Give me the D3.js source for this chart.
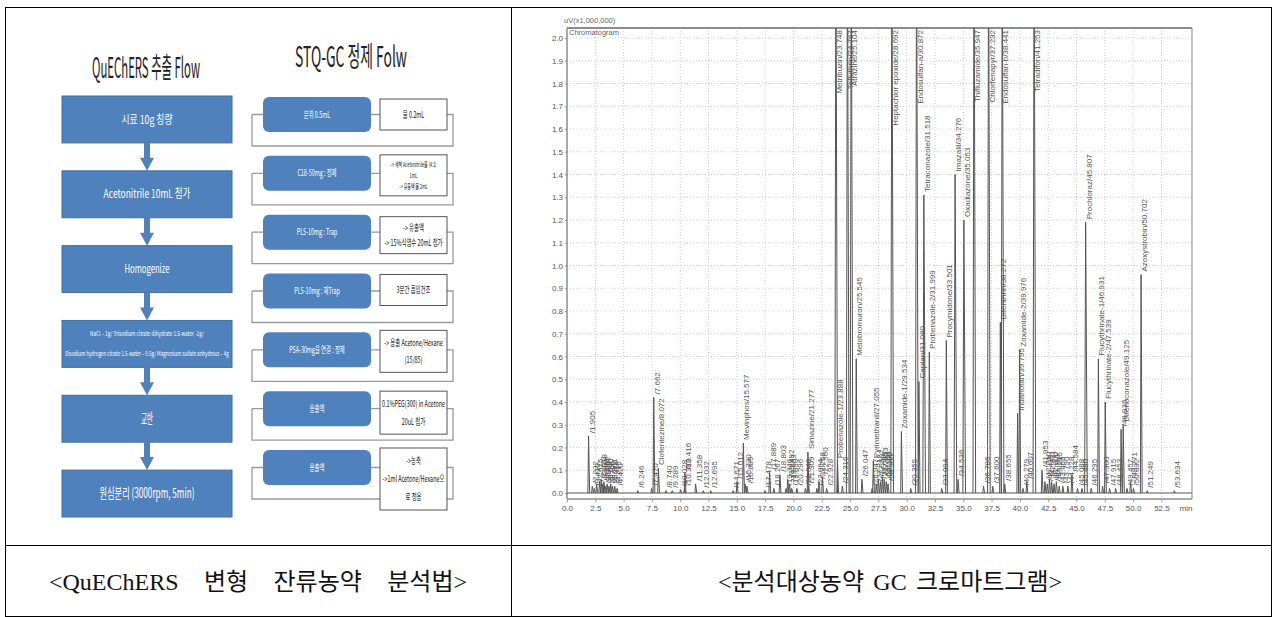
<!DOCTYPE html>
<html>
<head>
<meta charset="utf-8">
<script src="https://cdn.jsdelivr.net/npm/d3@7"></script>
<style>
body { margin: 0; background: #fff; }
</style>
</head>
<body>
<div class="canva"></div>
<script>
// ---- data ----
const flowTitle = "QuEChERS 추출 Flow";
const flowSteps = ["시료 10g 칭량", "Acetonitrile 10mL 첨가", "Homogenize",
  "NaCl – 1g/ Trisodium citrate dihydrate 1.5-water -1g/|Disodium hydrogen citrate 1.5-water – 0.5g/ Magnesium sulfate anhydrous – 4g",
  "교반", "원심분리 (3000rpm, 5min)"];

const purifyTitle = "STQ-GC 정제 Folw";
const purifySteps = ["분취 0.5mL", "C18-50mg : 정제", "PLS-10mg : Trap", "PLS-10mg : 재Trap",
  "PSA-30mg을 연결 : 정제", "용출액", "용출액"];
const purifyNotes = [
  ["물 0.2mL"],
  ["-> 세척 Acetonitrile을 (4:1)", "1mL", "-> 유출액 물 2mL"],
  ["-> 유출액", "-> 15%식염수 20mL 첨가"],
  ["3분간 흡입건조"],
  ["-> 용출 Acetone/Hexane", "(15/85)"],
  ["0.1%PEG(300) in Acetone", "20uL 첨가"],
  ["->농축", "->1ml Acetone/Hexane으", "로 정용"]
];

const captions = ["<QuEChERS 변형 잔류농약 분석법>", "<분석대상농약 GC 크로마트그램>"];

// chromatogram peaks: retention time (min), height (uV x 1,000,000), compound
const peakTimes = [1.905, 2.232, 2.410, 2.615, 2.872, 3.018, 3.140, 3.262, 3.398, 3.540, 3.706, 3.861, 4.018, 4.215, 4.420,
  6.246, 7.470, 7.662, 8.072, 8.740, 9.289, 10.028, 10.383, 10.416, 11.358, 12.032, 12.695,
  14.671, 15.012, 15.577, 15.730, 15.889, 17.478, 17.889, 18.267, 18.803, 19.346, 19.492, 19.653, 19.850,
  20.296, 21.048, 21.277, 21.309, 22.064, 22.258, 22.560, 22.928, 23.748, 23.888, 24.316, 24.767, 25.104,
  25.545, 26.047, 26.947, 27.055, 27.312, 27.502, 27.689, 27.853, 28.011, 28.195, 28.350, 28.692,
  29.534, 30.355, 30.872, 31.080, 31.518, 31.999, 33.094, 33.501, 34.276, 34.536, 35.053, 35.947,
  36.786, 37.232, 37.600, 38.272, 38.441, 38.655, 39.795, 39.976, 40.279, 40.607, 41.253, 41.953,
  42.210, 42.415, 42.611, 42.800, 43.012, 43.215, 43.468, 43.790, 44.228, 44.584, 45.088, 45.480,
  45.807, 46.295, 46.931, 47.300, 47.539, 47.915, 48.453, 48.936, 49.125, 49.457, 49.771, 50.032,
  50.702, 51.249, 53.634];
const peakHeights = [0.25, 0.03, 0.02, 0.04, 0.05, 0.06, 0.04, 0.05, 0.03, 0.04, 0.03, 0.04, 0.03, 0.03, 0.02,
  0.01, 0.02, 0.42, 0.11, 0.01, 0.01, 0.015, 0.02, 0.09, 0.04, 0.01, 0.01,
  0.01, 0.05, 0.22, 0.04, 0.03, 0.01, 0.09, 0.02, 0.08, 0.02, 0.06, 0.04, 0.02,
  0.02, 0.02, 0.18, 0.03, 0.02, 0.05, 0.07, 0.02, 2.5, 0.14, 0.03, 2.5, 2.5,
  0.59, 0.06, 0.02, 0.14, 0.04, 0.06, 0.05, 0.07, 0.06, 0.05, 0.04, 2.5,
  0.27, 0.02, 2.5, 0.49, 1.31, 0.62, 0.02, 0.67, 1.40, 0.06, 1.20, 2.5,
  0.03, 2.5, 0.03, 0.75, 2.5, 0.04, 0.35, 0.63, 0.02, 0.05, 2.5, 0.10,
  0.05, 0.04, 0.06, 0.05, 0.04, 0.05, 0.03, 0.03, 0.03, 0.08, 0.02, 0.02,
  1.19, 0.02, 0.59, 0.03, 0.40, 0.02, 0.02, 0.28, 0.30, 0.02, 0.05, 0.02,
  0.96, 0.01, 0.01];
const peakNames = ["", "", "", "", "", "", "", "", "", "", "", "", "", "", "",
  "", "", "", "Clofentezine", "", "", "", "", "", "", "", "",
  "", "", "Mevinphos", "", "", "", "", "", "", "", "", "", "",
  "", "", "Simazine", "", "", "", "", "", "Metribuzin", "Probenazole-1", "", "Tefluthrin", "Atrazine",
  "Metobromuron", "", "", "Pyrimethanil", "", "", "", "", "", "", "", "Heptachlor epoxide",
  "Zoxamide-1", "", "Endosulfan-a", "Captan", "Tetraconazole", "Probenazole-2", "", "Procymidone", "Imazalil", "", "Oxadiazone", "Thifluzamide",
  "", "Chlorfenapyr", "", "Bifenthrin", "Endosulfan-b", "", "Indanofan", "Zoxamide-2", "", "", "Tetradifon", "",
  "", "", "", "", "", "", "", "", "", "", "", "",
  "Prochloraz", "", "Flucythrinate-1", "", "Flucythrinate-2", "", "", "", "Difenoconazole", "", "", "",
  "Azoxystrobin", "", ""];

const xTickVals = [0, 2.5, 5, 7.5, 10, 12.5, 15, 17.5, 20, 22.5, 25, 27.5, 30, 32.5, 35, 37.5, 40, 42.5, 45, 47.5, 50, 52.5];
const yTickVals = [0, 0.1, 0.2, 0.3, 0.4, 0.5, 0.6, 0.7, 0.8, 0.9, 1.0, 1.1, 1.2, 1.3, 1.4, 1.5, 1.6, 1.7, 1.8, 1.9, 2.0];

// ---- page ----
const canvas = d3.select(".canva");
const svg = canvas.append("svg")
  .attr("width", 1277)
  .attr("height", 617);

const blue = "#4f81bd";
const condensed = "'Noto Sans CJK KR', 'DejaVu Sans Condensed', sans-serif";

// text squeezed horizontally to a target width (or by a factor when target < 1)
function narrowText(parent, str, cx, cy, size, target, color) {
  const g = parent.append("g");
  const t = g.append("text")
    .text(str)
    .attr("text-anchor", "middle")
    .attr("dy", "0.35em")
    .attr("font-family", condensed)
    .attr("font-size", size)
    .attr("fill", color);
  const w = t.node().getComputedTextLength();
  const sx = target < 1 ? target : target / w;
  g.attr("transform", `translate(${cx},${cy}) scale(${sx},1)`);
  return g;
}

// table grid
svg.append("rect")
  .attr("x", 5.5).attr("y", 7.5).attr("width", 1266).attr("height", 609)
  .attr("fill", "none").attr("stroke", "#000").attr("stroke-width", 1);
svg.append("line")
  .attr("x1", 511.5).attr("x2", 511.5).attr("y1", 7.5).attr("y2", 617)
  .attr("stroke", "#000");
svg.append("line")
  .attr("x1", 5.5).attr("x2", 1271.5).attr("y1", 545.5).attr("y2", 545.5)
  .attr("stroke", "#000");

// captions
const capX = [258, 890], capW = [418, 344];
captions.forEach((c, i) => {
  const t = svg.append("text")
    .text(c)
    .attr("x", capX[i]).attr("y", 590)
    .attr("text-anchor", "middle")
    .attr("font-family", "'Liberation Serif', 'Noto Sans CJK KR', serif")
    .attr("font-size", 24)
    .attr("fill", "#111");
  const w = t.node().getComputedTextLength();
  const spaces = c.split(" ").length - 1;
  t.attr("word-spacing", Math.max(0, (capW[i] - w) / spaces));
});

// ---- left flow (QuEChERS) ----
narrowText(svg, flowTitle, 146, 68, 28, 108, "#222");

const fy = d3.scaleBand()
  .domain(d3.range(flowSteps.length))
  .range([96, 517])
  .paddingInner(0.373);
const fx0 = 62, fx1 = 232, fcx = 147;
const flowTextW = [51, 87, 45, [114, 164], 12, 95];
const flowTextS = [12, 12, 12, 6, 15, 14];

flowSteps.forEach((s, i) => {
  const top = fy(i), h = fy.bandwidth();
  svg.append("rect")
    .attr("x", fx0).attr("y", top).attr("width", fx1 - fx0).attr("height", h)
    .attr("fill", blue).attr("stroke", "#41719c").attr("stroke-width", 1);
  const lines = s.split("|");
  lines.forEach((ln, j) => {
    const w = Array.isArray(flowTextW[i]) ? flowTextW[i][j] : flowTextW[i];
    narrowText(svg, ln, fcx, top + h / 2 + (lines.length > 1 ? (j - 0.5) * 20 : 0), flowTextS[i], w, "#fff");
  });
  if (i < flowSteps.length - 1) {
    const b = top + h, nt = fy(i + 1);
    svg.append("rect")
      .attr("x", fcx - 3).attr("y", b).attr("width", 6).attr("height", nt - b - 12)
      .attr("fill", blue);
    svg.append("path")
      .attr("d", `M${fcx - 7},${nt - 13}L${fcx + 7},${nt - 13}L${fcx},${nt}Z`)
      .attr("fill", blue);
  }
});

// ---- right flow (STQ-GC) ----
narrowText(svg, purifyTitle, 351, 57, 28, 112, "#222");

const py = d3.scaleBand()
  .domain(d3.range(purifySteps.length))
  .range([97, 485])
  .paddingInner(0.405);
const bx0 = 263, bx1 = 371, wx0 = 380, wx1 = 447, lx0 = 252, lx1 = 453;
const whiteH = [31, 41, 37, 31, 42, 43, 62];
const whiteDy = [2, -1, 2, 1, -2, 0, -2];

purifySteps.forEach((s, i) => {
  const top = py(i), h = py.bandwidth(), mid = top + h / 2;
  const bottom = top + 49;
  // connector / loop lines
  svg.append("path")
    .attr("d", `M${lx0},${mid}L${bx0},${mid}M${bx1},${mid}L${wx0},${mid}M${wx1},${mid}L${lx1},${mid}L${lx1},${bottom}L${lx0},${bottom}L${lx0},${mid}`)
    .attr("fill", "none").attr("stroke", "#9a9a9a").attr("stroke-width", 1.3);
  svg.append("rect")
    .attr("x", bx0).attr("y", top).attr("width", bx1 - bx0).attr("height", h)
    .attr("rx", 6).attr("ry", 6)
    .attr("fill", blue);
  narrowText(svg, s, (bx0 + bx1) / 2, mid, 9, 0.6, "#fff");
  const wt = top + whiteDy[i], wh = whiteH[i];
  svg.append("rect")
    .attr("x", wx0).attr("y", wt).attr("width", wx1 - wx0).attr("height", wh)
    .attr("fill", "#fff").attr("stroke", "#555").attr("stroke-width", 1);
  const notes = purifyNotes[i];
  const gap = notes.length > 1 ? Math.min(18, (wh - 8) / notes.length) : 0;
  notes.forEach((n, j) => {
    narrowText(svg, n, (wx0 + wx1) / 2, wt + wh / 2 + (j - (notes.length - 1) / 2) * gap,
      notes.length > 2 && i == 1 ? 6.5 : 9, 0.6, "#111");
  });
});

// ---- chromatogram ----
const plotL = 567, plotR = 1192, plotT = 28, plotB = 499;
const x = d3.scaleLinear().domain([0, 55.2]).range([plotL, plotR]);
const y = d3.scaleLinear().domain([0, 2.0]).range([493, 38]);
const chart = svg.append("g").attr("font-family", "'Liberation Sans', Arial, sans-serif");

chart.append("defs").append("clipPath").attr("id", "plotclip")
  .append("rect").attr("x", plotL).attr("y", plotT).attr("width", plotR - plotL).attr("height", plotB - plotT);

// grid
chart.append("g").selectAll("line")
  .data(xTickVals.filter(d => d > 0))
  .join("line")
  .attr("x1", d => x(d)).attr("x2", d => x(d))
  .attr("y1", plotT).attr("y2", plotB)
  .attr("stroke", "#cfcfcf").attr("stroke-dasharray", "1,2");
chart.append("g").selectAll("line")
  .data(yTickVals.filter(d => d > 0))
  .join("line")
  .attr("x1", plotL).attr("x2", plotR)
  .attr("y1", d => y(d)).attr("y2", d => y(d))
  .attr("stroke", "#cfcfcf").attr("stroke-dasharray", "1,2");

// frame
chart.append("line").attr("x1", plotL).attr("x2", plotR).attr("y1", plotT).attr("y2", plotT)
  .attr("stroke", "#8c8c8c").attr("stroke-width", 2);
chart.append("line").attr("x1", plotR).attr("x2", plotR).attr("y1", plotT).attr("y2", plotB)
  .attr("stroke", "#9a9a9a").attr("stroke-width", 1.2);

// axes
const yAxis = chart.append("g")
  .attr("transform", `translate(${plotL},0)`)
  .call(d3.axisLeft(y).tickValues(yTickVals).tickFormat(d3.format(".1f")).tickSize(2).tickPadding(2));
yAxis.select(".domain").attr("d", `M0,${plotT}V${plotB}`).attr("stroke", "#8c8c8c").attr("stroke-width", 1.5);
const xAxis = chart.append("g")
  .attr("transform", `translate(0,${plotB})`)
  .call(d3.axisBottom(x).tickValues(xTickVals).tickFormat(d3.format(".1f")).tickSize(3).tickPadding(3));
xAxis.select(".domain").attr("d", `M${plotL},0H${plotR}`).attr("stroke", "#8c8c8c").attr("stroke-width", 1.5);
[yAxis, xAxis].forEach(a => {
  a.selectAll("text").attr("font-size", 8).attr("fill", "#555").attr("font-family", "'Liberation Sans', Arial, sans-serif");
  a.selectAll(".tick line").attr("stroke", "#999");
});
chart.append("text").text("min")
  .attr("x", 1186).attr("y", 511).attr("text-anchor", "middle")
  .attr("font-size", 8).attr("fill", "#555");
chart.append("text").text("uV(x1,000,000)")
  .attr("x", 564).attr("y", 23)
  .attr("font-size", 7.5).attr("fill", "#666");
chart.append("text").text("Chromatogram")
  .attr("x", 569).attr("y", 35)
  .attr("font-size", 7.5).attr("fill", "#666");

// trace
const trace = chart.append("g").attr("clip-path", "url(#plotclip)");
const line = d3.line().x(d => x(d[0])).y(d => y(d[1]));
trace.append("path")
  .attr("d", line([[0, 0], [55.2, 0]]))
  .attr("fill", "none").attr("stroke", "#555").attr("stroke-width", 1);
peakTimes.forEach((t, i) => {
  const h = peakHeights[i];
  const half = h > 1 ? 0.09 : 0.06;
  trace.append("path")
    .attr("d", line([[t - half, 0], [t, h], [t + half * 1.6, 0]]))
    .attr("fill", "none").attr("stroke", "#555").attr("stroke-width", 1);
});

// peak labels
peakTimes.forEach((t, i) => {
  const h = peakHeights[i];
  const off = h > 2.0;
  const ty = off ? plotT + 2 : y(h) - 3;
  chart.append("text")
    .text((peakNames[i] || "") + "/" + t.toFixed(3))
    .attr("transform", `translate(${x(t) + 6},${ty}) rotate(-90)`)
    .attr("text-anchor", off ? "end" : "start")
    .attr("font-size", 8)
    .attr("fill", "#555");
});
</script>
</body>
</html>
